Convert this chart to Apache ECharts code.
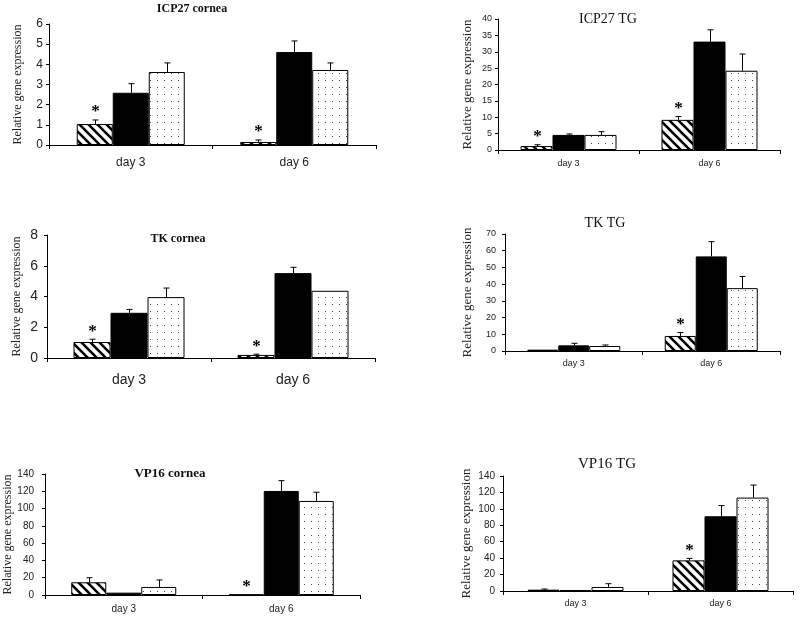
<!DOCTYPE html>
<html><head><meta charset="utf-8">
<script src="https://cdn.jsdelivr.net/npm/echarts@6/dist/echarts.min.js"></script>
<style>html,body{margin:0;padding:0;background:#fff}#c{width:800px;height:618px}</style>
</head><body><div id="c"></div>
<script>
// ---------- data ----------
const categories = ['day 3', 'day 6'];
const titles = ['ICP27 cornea', 'ICP27 TG', 'TK cornea', 'TK TG', 'VP16 cornea', 'VP16 TG'];
const yAxisName = 'Relative gene expression';
const yMaxes = [6, 40, 8, 70, 140, 140];
const yIntervals = [1, 5, 2, 10, 20, 20];

// ICP27 cornea
const icp27CorneaHatched = [1.04, 0.15], icp27CorneaHatchedSd = [0.20, 0.10];
const icp27CorneaSolid   = [2.59, 4.61], icp27CorneaSolidSd   = [0.45, 0.55];
const icp27CorneaDotted  = [3.62, 3.72], icp27CorneaDottedSd  = [0.45, 0.35];
const icp27CorneaStar = [1, 1];
// ICP27 TG
const icp27TgHatched = [1.2, 9.2],  icp27TgHatchedSd = [0.4, 1.0];
const icp27TgSolid   = [4.6, 33.1], icp27TgSolidSd   = [0.3, 3.6];
const icp27TgDotted  = [4.6, 24.2], icp27TgDottedSd  = [1.0, 5.1];
const icp27TgStar = [1, 1];
// TK cornea
const tkCorneaHatched = [1.04, 0.2], tkCorneaHatchedSd = [0.18, 0.05];
const tkCorneaSolid   = [2.94, 5.52], tkCorneaSolidSd  = [0.22, 0.38];
const tkCorneaDotted  = [3.96, 4.37], tkCorneaDottedSd = [0.59, 0];
const tkCorneaStar = [1, 1];
// TK TG
const tkTgHatched = [0.8, 9.0],  tkTgHatchedSd = [0, 2.0];
const tkTgSolid   = [3.4, 56.6], tkTgSolidSd   = [1.2, 8.8];
const tkTgDotted  = [3.0, 37.6], tkTgDottedSd  = [0.6, 7.0];
const tkTgStar = [0, 1];
// VP16 cornea
const vp16CorneaHatched = [14.7, 0.5], vp16CorneaHatchedSd = [5.3, 0];
const vp16CorneaSolid   = [2.7, 120.4], vp16CorneaSolidSd  = [0, 11.9];
const vp16CorneaDotted  = [9.3, 108.8], vp16CorneaDottedSd = [8.1, 10.1];
const vp16CorneaStar = [0, 1];
// VP16 TG
const vp16TgHatched = [1.6, 37.3], vp16TgHatchedSd = [0.8, 2.4];
const vp16TgSolid   = [0.8, 91.0], vp16TgSolidSd   = [0, 13.0];
const vp16TgDotted  = [4.9, 113.7], vp16TgDottedSd = [4.0, 15.3];
const vp16TgStar = [0, 1];

const panels = [
  {h: icp27CorneaHatched, hs: icp27CorneaHatchedSd, s: icp27CorneaSolid, ss: icp27CorneaSolidSd, d: icp27CorneaDotted, ds: icp27CorneaDottedSd, star: icp27CorneaStar},
  {h: icp27TgHatched, hs: icp27TgHatchedSd, s: icp27TgSolid, ss: icp27TgSolidSd, d: icp27TgDotted, ds: icp27TgDottedSd, star: icp27TgStar},
  {h: tkCorneaHatched, hs: tkCorneaHatchedSd, s: tkCorneaSolid, ss: tkCorneaSolidSd, d: tkCorneaDotted, ds: tkCorneaDottedSd, star: tkCorneaStar},
  {h: tkTgHatched, hs: tkTgHatchedSd, s: tkTgSolid, ss: tkTgSolidSd, d: tkTgDotted, ds: tkTgDottedSd, star: tkTgStar},
  {h: vp16CorneaHatched, hs: vp16CorneaHatchedSd, s: vp16CorneaSolid, ss: vp16CorneaSolidSd, d: vp16CorneaDotted, ds: vp16CorneaDottedSd, star: vp16CorneaStar},
  {h: vp16TgHatched, hs: vp16TgHatchedSd, s: vp16TgSolid, ss: vp16TgSolidSd, d: vp16TgDotted, ds: vp16TgDottedSd, star: vp16TgStar}
];

// ---------- layout / style ----------
const layouts = [
  {left: 49,  top: 24,  width: 327, height: 121, barW: 36, tx: 192, ty: 9,   ts: 12, tb: 'bold',   yls: 12, ylm: 6,  ns: 12, ng: 25, xls: 12, xlm: 12},
  {left: 498, top: 19,  width: 282, height: 131, barW: 32, tx: 608, ty: 19,  ts: 14, tb: 'normal', yls: 9,  ylm: 6,  ns: 13, ng: 24, xls: 9,  xlm: 9},
  {left: 47,  top: 235, width: 328, height: 123, barW: 37, tx: 178, ty: 239, ts: 12, tb: 'bold',   yls: 14, ylm: 9,  ns: 12, ng: 24, xls: 14, xlm: 15},
  {left: 505, top: 234, width: 275, height: 117, barW: 31, tx: 605, ty: 223, ts: 14, tb: 'normal', yls: 9,  ylm: 9,  ns: 13, ng: 31, xls: 9,  xlm: 8},
  {left: 45,  top: 474, width: 315, height: 121, barW: 35, tx: 170, ty: 474, ts: 13, tb: 'bold',   yls: 10, ylm: 11, ns: 12, ng: 29, xls: 10, xlm: 9},
  {left: 503, top: 476, width: 290, height: 115, barW: 32, tx: 607, ty: 464, ts: 15, tb: 'normal', yls: 10, ylm: 8,  ns: 13, ng: 30, xls: 9,  xlm: 8}
];

const SERIF = "'Liberation Serif','Times New Roman',serif";
const SANS = "'Liberation Sans Narrow','Arial Narrow','Liberation Sans',Arial,sans-serif";

function makeHatch() {
  const c = document.createElement('canvas'); c.width = 9; c.height = 9;
  const g = c.getContext('2d');
  g.fillStyle = '#fff'; g.fillRect(0, 0, 9, 9);
  g.strokeStyle = '#000'; g.lineWidth = 2.6;
  g.beginPath();
  g.moveTo(-2, -2); g.lineTo(11, 11);
  g.moveTo(-11, -2); g.lineTo(2, 11);
  g.moveTo(7, -2); g.lineTo(20, 11);
  g.stroke();
  return c;
}
function makeDots() {
  const c = document.createElement('canvas'); c.width = 7; c.height = 7;
  const g = c.getContext('2d');
  g.fillStyle = '#fff'; g.fillRect(0, 0, 7, 7);
  g.fillStyle = '#444'; g.fillRect(3, 3, 1, 1);
  return c;
}
const hatchPattern = {image: makeHatch(), repeat: 'repeat'};
const dotPattern = {image: makeDots(), repeat: 'repeat'};

const grid = [], xAxis = [], yAxis = [], series = [], graphics = [];

layouts.forEach((L, i) => {
  const P = panels[i];
  grid.push({left: L.left, top: L.top, width: L.width, height: L.height, outerBoundsMode: 'none', containLabel: false});
  xAxis.push({
    type: 'category', gridIndex: i, data: categories, boundaryGap: true,
    axisLine: {lineStyle: {color: '#000', width: 1}},
    axisTick: {show: true, length: 4, alignWithLabel: false, lineStyle: {color: '#000'}},
    axisLabel: {fontFamily: SANS, fontSize: L.xls, color: '#222', margin: L.xlm},
    splitLine: {show: false}
  });
  yAxis.push({
    type: 'value', gridIndex: i, min: 0, max: yMaxes[i], interval: yIntervals[i],
    name: yAxisName, nameLocation: 'middle', nameRotate: 90, nameGap: L.ng,
    nameTextStyle: {fontFamily: SERIF, fontSize: L.ns, color: '#222'},
    axisLine: {show: true, lineStyle: {color: '#000', width: 1}},
    axisTick: {show: true, length: 3, inside: false, lineStyle: {color: '#000'}},
    axisLabel: {fontFamily: SANS, fontSize: L.yls, color: '#222', margin: L.ylm},
    splitLine: {show: false}
  });
  const barCommon = {type: 'bar', xAxisIndex: i, yAxisIndex: i, barWidth: L.barW, barGap: '0%', animation: false};
  series.push(Object.assign({}, barCommon, {name: 'hatched', data: P.h, itemStyle: {color: hatchPattern, borderColor: '#000', borderWidth: 1}}));
  series.push(Object.assign({}, barCommon, {name: 'solid', data: P.s, itemStyle: {color: '#000', borderColor: '#000', borderWidth: 1}}));
  series.push(Object.assign({}, barCommon, {name: 'dotted', data: P.d, itemStyle: {color: dotPattern, borderColor: '#000', borderWidth: 1}}));

  const errData = [];
  [[P.h, P.hs], [P.s, P.ss], [P.d, P.ds]].forEach((pair, g) => {
    pair[0].forEach((v, c) => {
      errData.push([c, g, v, pair[1][c], g === 0 ? P.star[c] : 0]);
    });
  });
  series.push({
    type: 'custom', xAxisIndex: i, yAxisIndex: i, z: 10, animation: false,
    encode: {x: 0, y: 2},
    data: errData,
    renderItem: function (params, api) {
      const c = api.value(0), g = api.value(1), v = api.value(2), sd = api.value(3), st = api.value(4);
      const base = api.coord([c, v]);
      const x = Math.round(base[0] + (g - 1) * L.barW) + 0.5;
      const yTop = api.coord([c, v + sd])[1];
      const children = [];
      if (sd > 0) {
        children.push({type: 'line', shape: {x1: x, y1: base[1], x2: x, y2: yTop}, style: {stroke: '#000', lineWidth: 1}});
        children.push({type: 'line', shape: {x1: x - 3, y1: yTop, x2: x + 3, y2: yTop}, style: {stroke: '#000', lineWidth: 1}});
      }
      if (st) {
        children.push({type: 'text', x: x, y: yTop - 8, style: {text: '*', font: 'bold 17px ' + SERIF, fill: '#000', textAlign: 'center', textVerticalAlign: 'middle'}});
      }
      return {type: 'group', children: children};
    }
  });

  graphics.push({type: 'text', x: L.tx, y: L.ty, style: {text: titles[i], font: L.tb + ' ' + L.ts + 'px ' + SERIF, fill: '#111', textAlign: 'center', textVerticalAlign: 'middle'}});
});

const chart = echarts.init(document.getElementById('c'), null, {renderer: 'canvas'});
chart.setOption({
  backgroundColor: '#fff',
  animation: false,
  textStyle: {fontFamily: SANS},
  grid: grid, xAxis: xAxis, yAxis: yAxis, series: series,
  graphic: graphics
});
</script>
</body></html>
